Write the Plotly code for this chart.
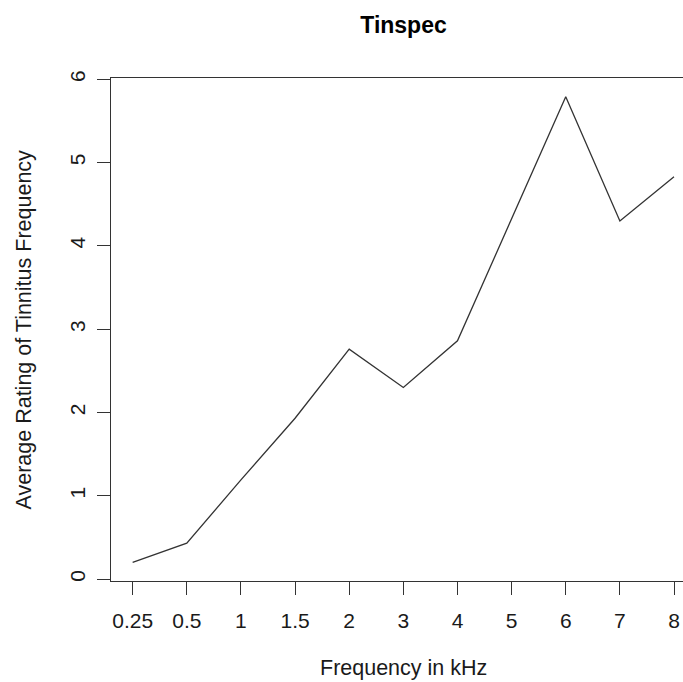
import plotly.graph_objects as go

# Frequency bands (kHz) and the average tinnitus-frequency rating for each
frequencies = ["0.25", "0.5", "1", "1.5", "2", "3", "4", "5", "6", "7", "8"]
avg_rating = [0.20, 0.43, 1.19, 1.93, 2.76, 2.30, 2.86, 4.33, 5.79, 4.30, 4.83]

y_ticks = [0, 1, 2, 3, 4, 5, 6]

FONT = "Liberation Sans, Arial, sans-serif"
INK = "#333333"

fig = go.Figure()
fig.add_trace(go.Scatter(
    x=list(range(len(frequencies))),
    y=avg_rating,
    mode="lines",
    line=dict(color=INK, width=1.3),
    hoverinfo="skip",
    showlegend=False,
))

fig.update_layout(
    width=683,
    height=682,
    margin=dict(l=111, r=0, t=78, b=101),
    paper_bgcolor="white",
    plot_bgcolor="white",
    font=dict(family=FONT, color="#1a1a1a", size=21),
    title=dict(
        text="<b>Tinspec</b>",
        font=dict(family=FONT, size=23, color="#000000"),
        x=403.5 / 683, xref="container", xanchor="center",
        y=1 - 25 / 682, yref="container", yanchor="middle",
    ),
    xaxis=dict(
        range=[-0.4, 10.166],
        tickmode="array",
        tickvals=list(range(len(frequencies))),
        ticktext=frequencies,
        showgrid=False, zeroline=False,
        showline=True, linecolor=INK, linewidth=1.3, mirror=True,
        ticks="outside", ticklen=13, tickwidth=1.3, tickcolor=INK,
        ticklabelstandoff=8,
    ),
    yaxis=dict(
        range=[-0.024, 6.016],
        tickmode="array",
        tickvals=y_ticks,
        ticktext=[str(v) for v in y_ticks],
        tickangle=-90,
        showgrid=False, zeroline=False,
        showline=True, linecolor=INK, linewidth=1.3, mirror=False,
        ticks="outside", ticklen=13, tickwidth=1.3, tickcolor=INK,
        ticklabelstandoff=3,
    ),
    annotations=[
        dict(
            text="Frequency in kHz",
            xref="paper", yref="paper",
            x=(403.5 - 111) / 572, y=-(668 - 581) / 503,
            xanchor="center", yanchor="middle",
            showarrow=False,
            font=dict(family=FONT, size=21.5, color="#1a1a1a"),
        ),
        dict(
            text="Average Rating of Tinnitus Frequency",
            xref="paper", yref="paper",
            x=-(111 - 23) / 572, y=0.5,
            xanchor="center", yanchor="middle",
            textangle=-90,
            showarrow=False,
            font=dict(family=FONT, size=21.5, color="#1a1a1a"),
        ),
    ],
)

fig.write_html("out.html")
